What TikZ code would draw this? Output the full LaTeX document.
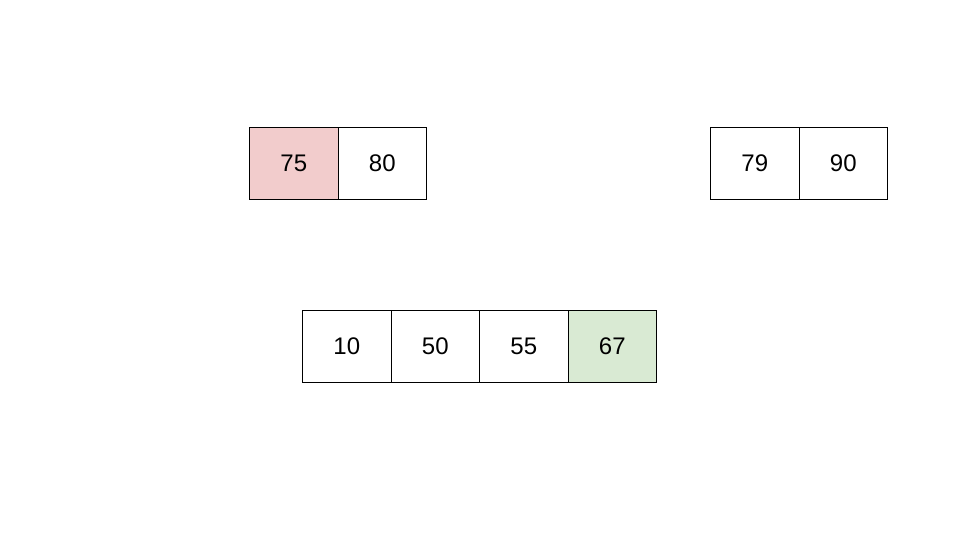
\documentclass[tikz,border=0pt]{standalone}
\usepackage{fontspec}
\setmainfont{Liberation Sans}
\definecolor{pinkcell}{HTML}{F2CCCC}
\definecolor{greencell}{HTML}{D9EAD3}
\begin{document}
\begin{tikzpicture}[x=1pt,y=-1pt,
  cell/.style={draw=black,line width=1pt,minimum width=88.5pt,minimum height=72pt,inner sep=0pt,outer sep=0pt,font=\fontsize{24}{28}\selectfont,anchor=north west}]
\useasboundingbox[fill=white] (0,0) rectangle (960,540);
% top-left
\node[cell,fill=pinkcell] (a1) at (249.5,127.5) {75};
\node[cell] (a2) at (338,127.5) {80};
% top-right
\node[cell] (b1) at (710.5,127.5) {79};
\node[cell] (b2) at (799,127.5) {90};
% bottom
\node[cell] (c1) at (302.5,310.5) {10};
\node[cell] (c2) at (391,310.5) {50};
\node[cell] (c3) at (479.5,310.5) {55};
\node[cell,fill=greencell] (c4) at (568,310.5) {67};
\end{tikzpicture}
\end{document}
